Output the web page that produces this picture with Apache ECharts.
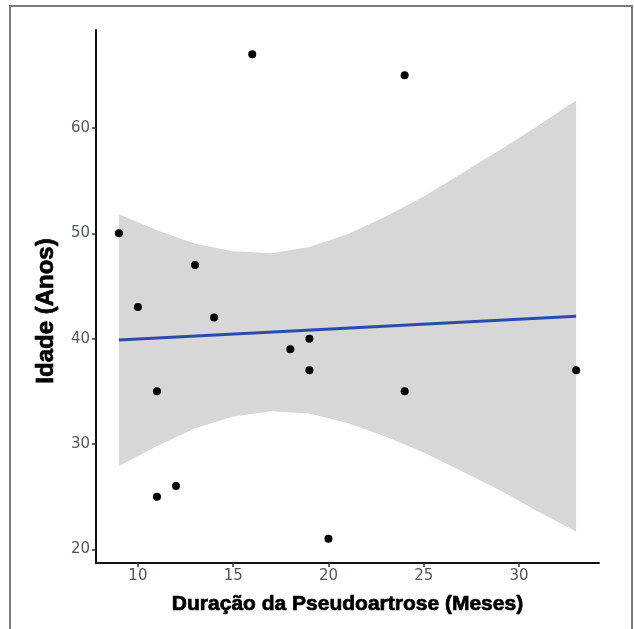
<!DOCTYPE html>
<html>
<head>
<meta charset="utf-8">
<script src="https://cdn.jsdelivr.net/npm/echarts@6/dist/echarts.min.js"></script>
<style>
html,body{margin:0;padding:0;background:#fff;}
#chart{width:634px;height:629px;}
</style>
</head>
<body>
<div id="chart"></div>
<script>
// Scatter points: duration (months) and age (years)
var durations = [9, 10, 11, 11, 12, 13, 14, 16, 18, 19, 19, 20, 24, 24, 33];
var ages      = [50, 43, 35, 25, 26, 47, 42, 67, 39, 40, 37, 21, 65, 35, 37];

// Fitted regression line endpoints
var fitX = [9, 33];
var fitY = [39.86, 42.12];

// Confidence band read at these x positions
var bandX     = [9, 11, 13, 15, 17, 19, 21, 23, 25, 27, 29, 31, 33];
var bandLower = [27.9, 29.8, 31.5, 32.6, 33.1, 32.9, 32.0, 30.7, 29.2, 27.4, 25.6, 23.6, 21.7];
var bandUpper = [51.8, 50.3, 49.0, 48.3, 48.1, 48.7, 49.9, 51.6, 53.5, 55.7, 57.9, 60.2, 62.6];

// Tick labels
var xTicks = [10, 15, 20, 25, 30];
var yTicks = [20, 30, 40, 50, 60];

var xTitle = 'Duração da Pseudoartrose (Meses)';
var yTitle = 'Idade (Anos)';

var scatterData = durations.map(function (d, i) { return [d, ages[i]]; });
var fitData = fitX.map(function (d, i) { return [d, fitY[i]]; });
var bandData = bandX.map(function (d, i) { return [d, bandLower[i], bandUpper[i]]; });

var chart = echarts.init(document.getElementById('chart'), null, {renderer: 'canvas'});

var tickLabelStyle = {color: '#4e5a5a', fontSize: 15, fontFamily: 'DejaVu Sans, sans-serif'};

chart.setOption({
  backgroundColor: '#ffffff',
  animation: false,
  graphic: [{
    type: 'rect',
    shape: {x: 10, y: 6, width: 622, height: 640},
    style: {fill: 'none', stroke: '#7a7a7a', lineWidth: 2},
    z: -10
  }],
  grid: {left: 96, right: 35, top: 30, bottom: 66},
  xAxis: {
    type: 'value',
    min: 7.8,
    max: 34.2,
    splitLine: {show: false},
    axisLine: {show: true, onZero: false, lineStyle: {color: '#111', width: 2}},
    axisTick: {show: true, customValues: xTicks, length: 4, lineStyle: {color: '#333', width: 1.5}},
    axisLabel: Object.assign({customValues: xTicks, margin: 6}, tickLabelStyle),
    name: xTitle,
    nameLocation: 'middle',
    nameGap: 31,
    nameTextStyle: {color: '#000', fontSize: 21, fontWeight: 'bold', fontFamily: 'Liberation Sans, Arial, sans-serif', textBorderColor: '#000', textBorderWidth: 0.7}
  },
  yAxis: {
    type: 'value',
    min: 18.7,
    max: 69.3,
    splitLine: {show: false},
    axisLine: {show: true, onZero: false, lineStyle: {color: '#111', width: 2}},
    axisTick: {show: true, customValues: yTicks, length: 4, lineStyle: {color: '#333', width: 1.5}},
    axisLabel: Object.assign({customValues: yTicks, margin: 6}, tickLabelStyle),
    name: yTitle,
    nameLocation: 'middle',
    nameGap: 38,
    nameRotate: 90,
    nameTextStyle: {color: '#000', fontSize: 24, fontWeight: 'bold', fontFamily: 'Liberation Sans, Arial, sans-serif', textBorderColor: '#000', textBorderWidth: 0.7, padding: [0, 29, 0, 0]}
  },
  series: [
    {
      type: 'custom',
      data: bandData,
      silent: true,
      z: 1,
      renderItem: function (params, api) {
        if (params.dataIndex !== 0) return null;
        var pts = [];
        for (var i = 0; i < bandData.length; i++) {
          pts.push(api.coord([bandData[i][0], bandData[i][2]]));
        }
        for (var j = bandData.length - 1; j >= 0; j--) {
          pts.push(api.coord([bandData[j][0], bandData[j][1]]));
        }
        return {type: 'polygon', shape: {points: pts}, style: {fill: '#d7d7d7', stroke: null}};
      }
    },
    {
      type: 'line',
      data: fitData,
      symbol: 'none',
      z: 2,
      lineStyle: {color: '#2b4aad', width: 3}
    },
    {
      type: 'scatter',
      data: scatterData,
      symbol: 'circle',
      symbolSize: 8,
      z: 3,
      itemStyle: {color: '#000', opacity: 1}
    }
  ]
});
</script>
</body>
</html>
